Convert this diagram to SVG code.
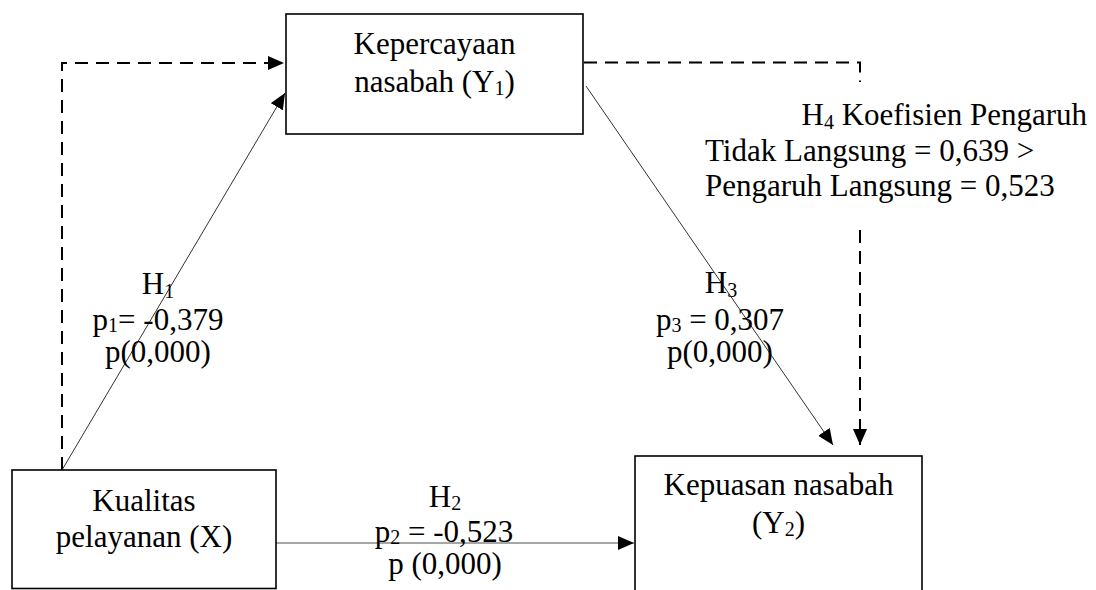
<svg xmlns="http://www.w3.org/2000/svg" width="1096" height="590" viewBox="0 0 1096 590">
  <style>
    .box { fill: #ffffff; stroke: #000000; stroke-width: 1.6; }
    .t { font-family: "Liberation Serif", "Times New Roman", serif; font-size: 31px; fill: #000000; }
    .c { text-anchor: middle; }
    .sub { font-size: 20px; }
    .solid { fill: none; stroke: #333333; stroke-width: 1; }
    .solid-gray { fill: none; stroke: #888888; stroke-width: 1.5; }
    .dash { fill: none; stroke: #000000; stroke-width: 2; stroke-dasharray: 13 8; }
  </style>
  <defs>
    <marker id="arrow" markerUnits="userSpaceOnUse" markerWidth="16" markerHeight="14" refX="16" refY="7" orient="auto">
      <path d="M0,0 L16,7 L0,14 z" fill="#000000"/>
    </marker>
  </defs>
  <rect width="1096" height="590" fill="#ffffff"/>

  <g id="connectors">
    <path class="dash" d="M62,470 V63 H284" marker-end="url(#arrow)"/>
    <path class="dash" d="M584,62.5 H860 V82"/>
    <path class="dash" d="M860,230 V445" marker-end="url(#arrow)"/>
    <line class="solid" x1="62" y1="470" x2="285" y2="93" marker-end="url(#arrow)"/>
    <line class="solid" x1="586" y1="86" x2="833" y2="445" marker-end="url(#arrow)"/>
    <line class="solid-gray" x1="276" y1="543" x2="634" y2="543" marker-end="url(#arrow)"/>
  </g>

  <g id="node-y1">
    <rect class="box" x="286" y="14" width="297" height="120"/>
    <text class="t c" x="434.5" y="54">Kepercayaan</text>
    <text class="t c" x="434.5" y="92">nasabah (Y<tspan class="sub" dy="3">1</tspan><tspan dy="-3">)</tspan></text>
  </g>

  <g id="node-x">
    <rect class="box" x="12" y="470" width="264" height="118.5"/>
    <text class="t c" x="144" y="511">Kualitas</text>
    <text class="t c" x="144" y="547">pelayanan (X)</text>
  </g>

  <g id="node-y2">
    <rect class="box" x="635" y="456" width="287" height="150"/>
    <text class="t c" x="778.5" y="495">Kepuasan nasabah</text>
    <text class="t c" x="778.5" y="533">(Y<tspan class="sub" dy="3">2</tspan><tspan dy="-3">)</tspan></text>
  </g>

  <g id="label-h1">
    <text class="t c" x="158" y="294">H<tspan class="sub" dy="4">1</tspan></text>
    <text class="t c" x="158" y="330">p<tspan class="sub" dy="2">1</tspan><tspan dy="-2">= -0,379</tspan></text>
    <text class="t c" x="158" y="362">p(0,000)</text>
  </g>

  <g id="label-h3">
    <text class="t c" x="721" y="293">H<tspan class="sub" dy="4">3</tspan></text>
    <text class="t c" x="720" y="330">p<tspan class="sub" dy="2">3</tspan><tspan dy="-2"> = 0,307</tspan></text>
    <text class="t c" x="720" y="362">p(0,000)</text>
  </g>

  <g id="label-h2">
    <text class="t c" x="445" y="507">H<tspan class="sub" dy="3">2</tspan></text>
    <text class="t c" x="444" y="542">p<tspan class="sub" dy="2">2</tspan><tspan dy="-2"> = -0,523</tspan></text>
    <text class="t c" x="445" y="574">p (0,000)</text>
  </g>

  <g id="label-h4">
    <text class="t" x="1087" y="125" text-anchor="end">H<tspan class="sub" dy="4">4</tspan><tspan dy="-4"> Koefisien Pengaruh</tspan></text>
    <text class="t" x="705" y="161">Tidak Langsung = 0,639 &gt;</text>
    <text class="t" x="705" y="196">Pengaruh Langsung = 0,523</text>
  </g>
</svg>
